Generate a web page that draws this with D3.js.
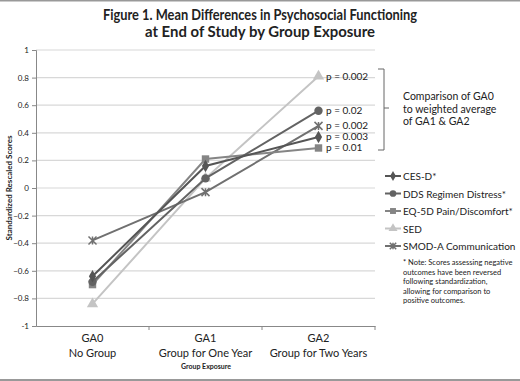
<!DOCTYPE html>
<html>
<head>
<meta charset="utf-8">
<script src="https://cdn.jsdelivr.net/npm/d3@7"></script>
<style>
  body { margin: 0; background: #fff; }
  text { font-family: Lato, "Open Sans", sans-serif; fill: #222; }
</style>
</head>
<body>
<div id="chart"></div>
<script>
// data
var groups = ["GA0", "GA1", "GA2"];
var groupSub = ["No Group", "Group for One Year", "Group for Two Years"];
var seriesNames = ["CES-D*", "DDS Regimen Distress*", "EQ-5D Pain/Discomfort*", "SED", "SMOD-A Communication"];
var cesd = [-0.64, 0.16, 0.37];
var dds = [-0.68, 0.07, 0.56];
var eq5d = [-0.70, 0.21, 0.29];
var sed = [-0.84, 0.07, 0.81];
var smod = [-0.38, -0.03, 0.45];
var pValues = ["p = 0.003", "p = 0.02", "p = 0.01", "p = 0.002", "p = 0.002"];
var yTicks = [-1, -0.8, -0.6, -0.4, -0.2, 0, 0.2, 0.4, 0.6, 0.8, 1];
var noteLines = ["* Note: Scores assessing negative", "outcomes have been reversed", "following standardization,", "allowing for comparison to", "positive outcomes."];
var bracketLines = ["Comparison of GA0", "to weighted average", "of GA1 & GA2"];

var allSeries = [cesd, dds, eq5d, sed, smod];
var colors = ["#555", "#636363", "#858585", "#c4c4c4", "#707070"];
var symbols = [d3.symbolDiamond, d3.symbolCircle, d3.symbolSquare, d3.symbolTriangle, "star"];

var W = 520, H = 381;
var svg = d3.select("#chart").append("svg").attr("width", W).attr("height", H);

// frame lines top and bottom
svg.append("line").attr("x1", 0).attr("x2", W).attr("y1", 0.5).attr("y2", 0.5).attr("stroke", "#999").attr("stroke-width", 2);
svg.append("line").attr("x1", 0).attr("x2", W).attr("y1", 380).attr("y2", 380).attr("stroke", "#999").attr("stroke-width", 2);

// title
svg.append("text").attr("x", 260).attr("y", 20).attr("text-anchor", "middle")
  .style("font-size", "15px").style("font-weight", 700).attr("textLength", 314).attr("lengthAdjust", "spacingAndGlyphs")
  .text("Figure 1. Mean Differences in Psychosocial Functioning");
svg.append("text").attr("x", 260).attr("y", 37).attr("text-anchor", "middle")
  .style("font-size", "15px").style("font-weight", 700).attr("textLength", 230).attr("lengthAdjust", "spacingAndGlyphs")
  .text("at End of Study by Group Exposure");

var x = d3.scaleBand().domain(groups).range([36, 375]);
var y = d3.scaleLinear().domain([-1, 1]).range([326, 50]);

// gridlines
svg.append("g").selectAll("line").data(yTicks.filter(function(d){ return d > -1; })).enter().append("line")
  .attr("x1", 36).attr("x2", 375)
  .attr("y1", function(d){ return y(d); }).attr("y2", function(d){ return y(d); })
  .attr("stroke", "#d8d8d8").attr("stroke-width", 1.2);

// y axis
var yAxis = svg.append("g").attr("transform", "translate(36,0)")
  .call(d3.axisLeft(y).tickValues(yTicks).tickSize(4).tickFormat(function(d){ return d === 0 ? "0" : (d === 1 || d === -1 ? d : d3.format(".1f")(d)); }));
yAxis.selectAll("path, line").attr("stroke", "#888");
yAxis.selectAll("text").style("font-size", "8px").attr("fill", "#333");

// x axis
var xAxis = svg.append("g").attr("transform", "translate(0,326)")
  .call(d3.axisBottom(x).tickSize(0).tickFormat(""));
xAxis.select("path").attr("stroke", "#888");
svg.append("g").selectAll("line").data(x.domain().map(function(g){ return x(g) + x.bandwidth(); })).enter().append("line")
  .attr("x1", function(d){ return d; }).attr("x2", function(d){ return d; })
  .attr("y1", 326).attr("y2", 330).attr("stroke", "#888");

var cx = function(g){ return x(g) + x.bandwidth() / 2; };
var xl = svg.append("g");
groups.forEach(function(g, i){
  xl.append("text").attr("x", cx(g)).attr("y", 342).attr("text-anchor", "middle").style("font-size", "11px").text(g);
  xl.append("text").attr("x", cx(g)).attr("y", 357).attr("text-anchor", "middle").style("font-size", "11px").text(groupSub[i]);
});
svg.append("text").attr("x", 206).attr("y", 369).attr("text-anchor", "middle")
  .style("font-size", "7px").style("font-weight", 700).text("Group Exposure");
svg.append("text").attr("transform", "translate(12,188) rotate(-90)").attr("text-anchor", "middle")
  .style("font-size", "8px").style("font-weight", 700).text("Standardized Rescaled Scores");

// series lines + markers (draw SED first so darker ones sit on top)
var line = d3.line().x(function(d, i){ return cx(groups[i]); }).y(function(d){ return y(d); });
var order = [3, 4, 2, 1, 0];
order.forEach(function(k){
  var vals = allSeries[k];
  svg.append("path").datum(vals).attr("d", line)
    .attr("fill", "none").attr("stroke", colors[k]).attr("stroke-width", 2);
  var g = svg.append("g");
  vals.forEach(function(v, i){
    drawMarker(g, cx(groups[i]), y(v), k, 1);
  });
});

function drawMarker(g, px, py, k, sc) {
  if (symbols[k] === "star") {
    var s = 4 * sc;
    g.append("path").attr("d", "M" + (px - s) + "," + (py - s) + "L" + (px + s) + "," + (py + s) + "M" + (px - s) + "," + (py + s) + "L" + (px + s) + "," + (py - s) + "M" + px + "," + (py - s) + "L" + px + "," + (py + s))
      .attr("stroke", colors[k]).attr("stroke-width", 1.5).attr("fill", "none");
  } else {
    var size = (k === 0 ? 45 : 55) * sc * sc;
    g.append("path").attr("d", d3.symbol().type(symbols[k]).size(size)())
      .attr("transform", "translate(" + px + "," + py + ")").attr("fill", colors[k]);
  }
}

// p-values next to GA2 points
allSeries.forEach(function(vals, k){
  svg.append("text").attr("x", 326).attr("y", y(vals[2]) + 3.5)
    .style("font-size", "10px").text(pValues[k]);
});

// bracket
svg.append("path")
  .attr("d", "M378,69 L384,69 L384,150 L378,150 M384,108 L389,108")
  .attr("fill", "none").attr("stroke", "#666").attr("stroke-width", 1);
bracketLines.forEach(function(t, i){
  svg.append("text").attr("x", 403).attr("y", 100 + i * 12.5).style("font-size", "10.5px").text(t);
});

// legend
var lg = svg.append("g");
seriesNames.forEach(function(name, k){
  var ly = 176 + k * 17.5;
  lg.append("line").attr("x1", 385).attr("x2", 401).attr("y1", ly).attr("y2", ly)
    .attr("stroke", colors[k]).attr("stroke-width", 2);
  drawMarker(lg, 393, ly, k, 0.8);
  lg.append("text").attr("x", 403).attr("y", ly + 4).style("font-size", "10px").text(name);
});
noteLines.forEach(function(t, i){
  lg.append("text").attr("x", 403).attr("y", 265 + i * 9.5).style("font-size", "7.5px").text(t);
});
</script>
</body>
</html>
